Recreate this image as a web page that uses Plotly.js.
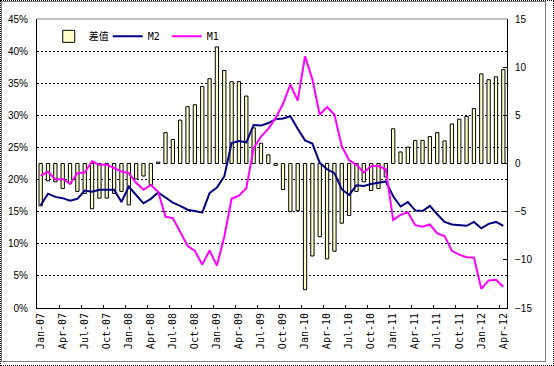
<!DOCTYPE html>
<html><head><meta charset="utf-8">
<script src="https://cdn.plot.ly/plotly-3.0.1.min.js"></script>
<style>
html,body{margin:0;padding:0;background:#fff;}
#wrap{position:relative;width:554px;height:366px;overflow:hidden;}
#outer{position:absolute;left:0;top:0;width:552px;height:364px;border:1px dotted #000;}
#inner{position:absolute;left:1px;top:1px;width:543px;height:359px;border:1px solid #808080;}
#chart{position:absolute;left:0;top:0;width:554px;height:366px;}
</style></head>
<body><div id="wrap"><div id="outer"></div><div id="inner"></div><div id="chart"></div></div>
<script>
const months = ["Jan-07","Feb-07","Mar-07","Apr-07","May-07","Jun-07","Jul-07","Aug-07","Sep-07","Oct-07","Nov-07","Dec-07",
"Jan-08","Feb-08","Mar-08","Apr-08","May-08","Jun-08","Jul-08","Aug-08","Sep-08","Oct-08","Nov-08","Dec-08",
"Jan-09","Feb-09","Mar-09","Apr-09","May-09","Jun-09","Jul-09","Aug-09","Sep-09","Oct-09","Nov-09","Dec-09",
"Jan-10","Feb-10","Mar-10","Apr-10","May-10","Jun-10","Jul-10","Aug-10","Sep-10","Oct-10","Nov-10","Dec-10",
"Jan-11","Feb-11","Mar-11","Apr-11","May-11","Jun-11","Jul-11","Aug-11","Sep-11","Oct-11","Nov-11","Dec-11",
"Jan-12","Feb-12","Mar-12","Apr-12"];
const tickLabels = ["Jan-07","Apr-07","Jul-07","Oct-07","Jan-08","Apr-08","Jul-08","Oct-08","Jan-09","Apr-09","Jul-09","Oct-09",
"Jan-10","Apr-10","Jul-10","Oct-10","Jan-11","Apr-11","Jul-11","Oct-11","Jan-12","Apr-12"];
const diffValues = [-4.4,-1.8,-1.9,-2.6,-2.1,-2.9,-3.1,-4.7,-3.6,-3.6,-3.1,-2.9,
-4.3,-1.6,-1.3,-2.2,0.15,3.2,2.5,4.5,5.9,6.1,8.0,8.8,
12.1,9.65,8.5,8.5,7.0,3.7,2.1,0.9,-0.2,-2.7,-5.0,-4.9,
-13.1,-9.6,-7.6,-9.9,-9.1,-6.2,-5.4,-2.9,-1.9,-2.8,-2.6,-1.4,
3.6,1.2,1.7,2.4,2.4,2.8,3.2,2.35,4.1,4.6,4.9,5.7,
9.3,8.7,9.0,9.75];
const m2Values = [16.0,17.8,17.3,17.1,16.7,17.0,18.3,18.1,18.4,18.4,18.4,16.5,
18.9,17.6,16.3,17.0,18.0,17.2,16.4,15.9,15.3,15.1,14.85,17.9,
18.75,20.5,25.7,26.0,25.8,28.5,28.4,28.8,29.4,29.5,29.85,27.9,
26.1,25.6,22.6,21.6,21.0,18.5,17.6,19.1,19.0,19.3,19.5,19.7,
17.4,15.8,16.5,15.2,15.1,15.9,14.6,13.4,13.0,12.9,12.8,13.4,
12.4,13.1,13.4,12.8];
const m1Values = [20.6,21.2,20.0,20.1,19.35,21.0,21.1,22.85,22.3,22.3,21.8,21.25,
21.0,19.5,18.4,19.15,18.1,14.2,14.0,11.8,9.7,8.9,6.75,8.95,
6.6,11.1,17.0,17.5,18.65,24.9,26.7,27.9,29.6,31.8,34.8,32.3,
39.2,35.6,30.1,31.3,30.1,25.2,23.0,22.3,21.1,22.1,22.1,21.6,
13.7,14.5,14.9,12.9,12.65,13.0,11.6,11.2,8.9,8.3,7.9,7.85,
3.0,4.3,4.4,3.3];

const idx = months.map((m, i) => i);
const tickPos = tickLabels.map(l => months.indexOf(l));
const boundaryPos = tickPos.slice(1).map(p => p - 0.5);

const traces = [
  {type:'bar', name:'差值', x:idx, y:diffValues, xaxis:'x', yaxis:'y', width:0.45,
   marker:{color:'#FFFFCC', line:{color:'#000000', width:1}}, hoverinfo:'skip'},
  {type:'scatter', mode:'lines', name:'M2', x:idx, y:m2Values, xaxis:'x', yaxis:'y2',
   line:{color:'#000080', width:2}, hoverinfo:'skip'},
  {type:'scatter', mode:'lines', name:'M1', x:idx, y:m1Values, xaxis:'x', yaxis:'y2',
   line:{color:'#FF00FF', width:2}, hoverinfo:'skip'}
];

const layout = {
  width:554, height:366,
  margin:{l:37, r:47, t:19, b:58, pad:0},
  paper_bgcolor:'rgba(0,0,0,0)', plot_bgcolor:'rgba(0,0,0,0)',
  showlegend:true,
  bargap:0.5,
  xaxis:{range:[-0.5,63.5], tickmode:'array', tickvals:tickPos, ticktext:tickLabels, tickangle:-90,
    ticks:'', showline:true, linecolor:'#000', linewidth:1, showgrid:false, zeroline:false,
    tickfont:{family:'DejaVu Sans Mono', size:10, color:'#000'},
    minor:{tickmode:'array', tickvals:boundaryPos, ticks:'inside', ticklen:3, tickcolor:'#000', tickwidth:1, showgrid:false}},
  yaxis:{range:[-15,15], side:'right', tickmode:'linear', tick0:-15, dtick:5, showgrid:false, zeroline:false,
    showline:true, linecolor:'#000', linewidth:1, ticks:'inside', ticklen:4, tickcolor:'#000',
    tickfont:{family:'Liberation Sans', size:10, color:'#000'}, ticklabelstandoff:5},
  yaxis2:{overlaying:'y', side:'left', range:[0,45], tickmode:'linear', tick0:0, dtick:5, ticksuffix:'%',
    showgrid:true, gridcolor:'#000', griddash:'2px,2px', gridwidth:1, zeroline:false,
    showline:true, linecolor:'#000', linewidth:1, ticks:'',
    tickfont:{family:'Liberation Sans', size:10, color:'#000'}, ticklabelstandoff:6},
  legend:{orientation:'h', x:0.025, xanchor:'left', y:0.94, yanchor:'middle', bgcolor:'rgba(0,0,0,0)',
    font:{family:'DejaVu Sans Mono, Noto Sans CJK SC', size:10, color:'#000'}, itemwidth:30,
    entrywidth:14, entrywidthmode:'pixels', traceorder:'normal'},
  shapes:[{type:'line', xref:'paper', yref:'paper', x0:0, x1:1, y0:1, y1:1, line:{color:'#c0c0c0', width:2}}]
};

Plotly.newPlot('chart', traces, layout, {staticPlot:true, displayModeBar:false});
</script>
</body></html>
